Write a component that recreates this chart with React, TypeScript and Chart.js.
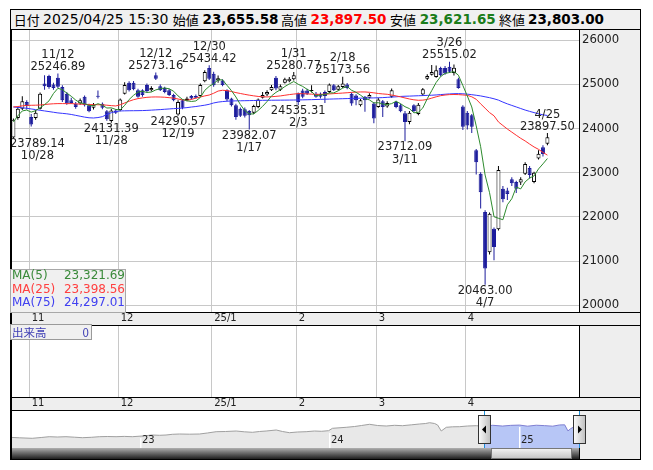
import React, { useEffect, useRef } from "react";
import { Chart, registerables } from "chart.js";

Chart.register(...registerables);

// ---------------- data ----------------
const dates = ["10/28","10/29","10/30","10/31","11/1","11/5","11/6","11/7","11/8","11/11","11/12","11/13","11/14","11/15","11/18","11/19","11/20","11/21","11/22","11/25","11/26","11/27","11/28","11/29","12/2","12/3","12/4","12/5","12/6","12/9","12/10","12/11","12/12","12/13","12/16","12/17","12/18","12/19","12/20","12/23","12/24","12/25","12/26","12/27","12/30","1/6","1/7","1/8","1/9","1/10","1/14","1/15","1/16","1/17","1/20","1/21","1/22","1/23","1/24","1/27","1/28","1/29","1/30","1/31","2/3","2/4","2/5","2/6","2/7","2/10","2/12","2/13","2/14","2/17","2/18","2/19","2/20","2/21","2/25","2/26","2/27","2/28","3/3","3/4","3/5","3/6","3/7","3/10","3/11","3/12","3/13","3/14","3/17","3/18","3/19","3/21","3/24","3/25","3/26","3/27","3/28","3/31","4/1","4/2","4/3","4/4","4/7","4/8","4/9","4/10","4/11","4/14","4/15","4/16","4/17","4/18","4/21","4/22","4/23","4/24","4/25"];

const opens = [
  23800, 24240, 24450, 24600, 24260, 24240, 24450, 25020, 25190, 25000,
  25150, 24940, 24790, 24640, 24560, 24570, 24720, 24530, 24470, 24740,
  24560, 24390, 24170, 24410, 24420, 24790, 25040, 25040, 24870, 24870,
  24990, 24870, 25210, 24960, 24920, 24870, 24760, 24320, 24640, 24640,
  24740, 24740, 24740, 25070, 25370, 25240, 25090, 25090, 24870, 24680,
  24530, 24450, 24440, 24400, 24360, 24490, 24700, 24770, 24870, 25150,
  24880, 25040, 25070, 25120, 24800, 24860, 24860, 24850, 24790, 24790,
  24830, 24830, 24980, 24880, 24940, 25000, 24790, 24750, 24530, 24720,
  24700, 24570, 24490, 24620, 24500, 24720, 24600, 24530, 24350, 24150,
  24530, 24330, 24770, 25130, 25220, 25170, 25370, 25370, 25400, 25260,
  25120, 24500, 24360, 24300, 23510, 22980, 22110, 21200, 21730, 21720,
  22640, 22600, 22850, 22790, 22780, 22980, 23110, 22790, 23320, 23580,
  23655.58
];
const highs = [
  24230, 24490, 24730, 24640, 24330, 24420, 24820, 25210, 25220, 25040,
  25246.89, 24980, 24830, 24700, 24600, 24680, 24750, 24560, 24580, 24860,
  24590, 24420, 24450, 24440, 24680, 25050, 25070, 25080, 24900, 24890,
  25020, 24960, 25273.16, 25000, 24950, 24900, 24790, 24640, 24660, 24720,
  24760, 24770, 25020, 25320, 25434.42, 25290, 25200, 25120, 24890, 24700,
  24560, 24480, 24480, 24420, 24540, 24680, 24830, 24870, 24990, 25190,
  25000, 25150, 25170, 25280.77, 24820, 24900, 24900, 24980, 24830, 24820,
  24860, 25020, 25010, 24990, 25173.56, 25030, 24820, 24780, 24670, 24740,
  24800, 24600, 24700, 24650, 24620, 24910, 24630, 24560, 24400, 24400,
  24550, 24580, 24920, 25230, 25440, 25430, 25400, 25420, 25515.02, 25450,
  25150, 24530, 24400, 24330, 23540, 23010, 22150, 22100, 21760, 23150,
  22700, 22660, 22900, 22820, 22900, 23240, 23150, 23020, 23510, 23620,
  23897.50
];
const lows = [
  23789.14, 24200, 24420, 24430, 24050, 24200, 24430, 24880, 24900, 24880,
  24920, 24600, 24540, 24560, 24450, 24540, 24500, 24370, 24430, 24680,
  24440, 24180, 24131.39, 24330, 24390, 24770, 24840, 24870, 24700, 24720,
  24820, 24840, 25100, 24850, 24800, 24740, 24620, 24290.57, 24440, 24620,
  24660, 24680, 24720, 25050, 25100, 24950, 25040, 24960, 24620, 24500,
  24200, 24260, 24250, 23982.07, 24330, 24460, 24680, 24740, 24850, 24870,
  24850, 25020, 25050, 25090, 24535.31, 24690, 24760, 24820, 24700, 24680,
  24580, 24800, 24850, 24860, 24920, 24890, 24520, 24530, 24500, 24380,
  24680, 24120, 24470, 24260, 24470, 24700, 24460, 24370, 23712.09, 24100,
  24370, 24300, 24740, 25100, 25200, 25150, 25180, 25220, 25260, 25200,
  24900, 23970, 23980, 23900, 22960, 22190, 20463.00, 21150, 21020, 21690,
  22330, 22380, 22700, 22540, 22720, 22950, 22870, 22760, 23300, 23370,
  23621.65
];
const closes = [
  24200, 24450, 24620, 24510, 24090, 24360, 24790, 24960, 24940, 24920,
  24950, 24640, 24570, 24580, 24490, 24640, 24530, 24390, 24540, 24720,
  24470, 24210, 24410, 24360, 24660, 24990, 24870, 24890, 24720, 24760,
  24850, 24920, 25130, 24870, 24830, 24760, 24640, 24600, 24470, 24680,
  24680, 24700, 24990, 25280, 25130, 24980, 25140, 24990, 24660, 24530,
  24260, 24290, 24290, 24300, 24510, 24660, 24760, 24830, 24940, 24910,
  24960, 25120, 25130, 25210, 24600, 24720, 24790, 24870, 24720, 24720,
  24740, 24997, 24870, 24960, 25020, 24920, 24570, 24640, 24640, 24640,
  24760, 24230, 24660, 24490, 24580, 24870, 24490, 24390, 24150, 24360,
  24400, 24540, 24890, 25190, 25280, 25320, 25210, 25250, 25290, 25380,
  24920, 24040, 24070, 24040, 23240, 22560, 20830, 22070, 21320, 23060,
  22400, 22520, 22760, 22640, 22850, 23200, 22950, 23000, 23430, 23425,
  23803.00
];

const ma5 = [
  24150, 24290, 24400, 24420, 24374, 24406, 24474, 24542, 24628, 24794,
  24912, 24882, 24804, 24732, 24646, 24584, 24562, 24526, 24518, 24564,
  24530, 24466, 24470, 24434, 24422, 24526, 24658, 24754, 24826, 24846,
  24818, 24828, 24876, 24906, 24920, 24902, 24846, 24740, 24660, 24630,
  24614, 24626, 24704, 24866, 24956, 25016, 25104, 25104, 24980, 24860,
  24716, 24546, 24406, 24334, 24330, 24410, 24504, 24612, 24740, 24820,
  24880, 24952, 25012, 25066, 25004, 24956, 24890, 24838, 24740, 24764,
  24768, 24809, 24809, 24857, 24917, 24953, 24868, 24822, 24758, 24682,
  24650, 24582, 24586, 24556, 24544, 24566, 24618, 24564, 24496, 24452,
  24358, 24368, 24468, 24676, 24860, 25044, 25178, 25250, 25270, 25290,
  25210, 24976, 24740, 24490, 24062, 23590, 22948, 22548, 22004, 21968,
  21936, 22274, 22412, 22676, 22634, 22794, 22880, 22928, 23086, 23201,
  23321.69
];
const ma25 = [
  24490, 24500, 24515, 24525, 24528, 24530, 24535, 24545, 24555, 24562,
  24566, 24566, 24565, 24566, 24560, 24555, 24550, 24545, 24542, 24540,
  24538, 24530, 24520, 24513, 24540, 24580, 24620, 24655, 24679, 24695,
  24708, 24715, 24717, 24715, 24710, 24700, 24690, 24670, 24650, 24641,
  24660, 24690, 24715, 24740, 24760, 24800, 24850, 24868, 24860, 24840,
  24815, 24795, 24775, 24757, 24742, 24728, 24720, 24717, 24722, 24730,
  24740, 24755, 24770, 24782, 24792, 24790, 24785, 24780, 24776, 24775,
  24780, 24785, 24792, 24798, 24805, 24812, 24820, 24826, 24830, 24830,
  24822, 24810, 24795, 24785, 24777, 24760, 24740, 24718, 24694, 24670,
  24652, 24641, 24645, 24660, 24690, 24720, 24745, 24760, 24770, 24772,
  24770, 24762, 24754, 24720, 24664, 24560, 24462, 24362, 24290, 24150,
  24070, 23990, 23920, 23849, 23780, 23720, 23650, 23584, 23530, 23460,
  23398.56
];
const ma75 = [
  24490, 24480, 24470, 24460, 24445, 24430, 24415, 24400, 24385, 24370,
  24355, 24345, 24335, 24320, 24300, 24280, 24260, 24245, 24240, 24250,
  24270, 24320, 24360, 24385, 24400, 24402, 24404, 24405, 24406, 24408,
  24412, 24418, 24424, 24430, 24438, 24445, 24452, 24458, 24465, 24475,
  24488, 24500, 24515, 24530, 24550, 24580, 24600, 24612, 24620, 24625,
  24628, 24630, 24632, 24634, 24636, 24638, 24640, 24641, 24642, 24643,
  24644, 24645, 24646, 24647, 24649, 24651, 24653, 24656, 24659, 24662,
  24665, 24668, 24671, 24674, 24677, 24680, 24683, 24686, 24689, 24691,
  24693, 24695, 24698, 24702, 24708, 24714, 24720, 24728, 24733, 24736,
  24740, 24744, 24748, 24752, 24756, 24762, 24770, 24778, 24785, 24790,
  24792, 24788, 24780, 24768, 24755, 24740, 24720, 24700, 24675, 24645,
  24600, 24560, 24525, 24490, 24455, 24420, 24390, 24362, 24335, 24312,
  24297.01
];

const monthStartDates = ["11/1", "12/2", "1/6", "2/3", "3/3", "4/1"];
const monthLabels = ["11", "12", "25/1", "2", "3", "4"];
const priceTicks = [20000, 21000, 22000, 23000, 24000, 25000, 26000];
const highLabelDates = ["11/12", "12/12", "12/30", "1/31", "2/18", "3/26", "4/25"];
const lowLabelDates = ["10/28", "11/28", "12/19", "1/17", "2/3", "3/11", "4/7"];
const headerDateTime = "2025/04/25 15:30";

// navigator (months since 2022-01, index level)
const navMonths = [3.73, 4.32, 5.14, 5.71, 6.22, 6.73, 7.28, 7.81, 8.32, 8.89, 9.40, 9.90, 10.46, 10.98, 11.49, 12.13, 12.76, 13.21, 13.63, 14.03, 14.48, 15.11, 15.75, 16.25, 16.81, 17.40, 18.08, 18.60, 19.11, 19.56, 19.98, 20.62, 21.02, 21.46, 21.97, 22.52, 23.05, 23.49, 23.94, 24.19, 25.06, 25.59, 26.03, 26.54, 27.05, 27.60, 28.13, 28.63, 29.21, 29.71, 30.10, 30.35, 30.67, 30.86, 31.09, 31.41, 31.81, 32.25, 32.76, 33.31, 33.80, 34.35, 34.98, 35.49, 36.06, 36.57, 37.12, 37.65, 38.16, 38.60, 38.92, 39.13, 39.30, 39.45, 39.62, 39.83];
const navValues = [16186, 15821, 15456, 16040, 16624, 16405, 16624, 16259, 15894, 16186, 16624, 16770, 16624, 16843, 16624, 17135, 17865, 17646, 17865, 18376, 18595, 18450, 18595, 19325, 20274, 20420, 20785, 20201, 19836, 20420, 20785, 21515, 20420, 19544, 20055, 20274, 20785, 20566, 21004, 22756, 23486, 24070, 24800, 25676, 24800, 24435, 24946, 24654, 25311, 25895, 26260, 26844, 26260, 25165, 20785, 23486, 23851, 23924, 24435, 24654, 24200, 24950, 24400, 24900, 25100, 24300, 25000, 24700, 24300, 25200, 25300, 20830, 22500, 23400, 22950, 23800];
const navYearMonths = [12, 24, 36];
const navYearLabels = ["23", "24", "25"];
const navSelStart = 33.80;

// ---------------- styles ----------------
const FONT = '"DejaVu Sans", "Noto Sans CJK JP", sans-serif';
const CJK = '"Noto Sans CJK JP", "DejaVu Sans", sans-serif';
const DOWN = "#1c1c9c";
const GRID = "#c8c8c8";
const PANEL = "#eeeeee";
const MA5_COLOR = "#2e8b2e";
const MA25_COLOR = "#ff3030";
const MA75_COLOR = "#3535ff";
const X_MIN = -0.764, X_MAX = 127.1;
const Y_MIN = 19846, Y_MAX = 26233;
const AXIS_W = 62;
const STRIP_H = 13;
const GRID_SHIFT = 0.4;
const NAV_X_MIN = 3.73, NAV_X_MAX = 39.83;
const NAV_Y_MIN = 8375, NAV_Y_MAX = 35385;

Chart.defaults.font.family = FONT;

const fmt = (v: number) => v.toLocaleString("en-US", { minimumFractionDigits: 2, maximumFractionDigits: 2 });

const noPad = (s: any) => { s.paddingTop = 0; s.paddingBottom = 0; s.paddingLeft = 0; s.paddingRight = 0; };

function monthAxis(): any {
  const monthIdx = monthStartDates.map((d) => dates.indexOf(d));
  return {
    type: "linear", position: "bottom", min: X_MIN, max: X_MAX, offset: false, bounds: "data",
    grid: { color: GRID, drawTicks: false, offset: false, lineWidth: 1 },
    border: { display: false },
    afterBuildTicks: (s: any) => { s.ticks = monthIdx.map((i) => ({ value: i - GRID_SHIFT })); },
    afterFit: (s: any) => { s.height = STRIP_H; noPad(s); },
    ticks: {
      autoSkip: false, maxRotation: 0, minRotation: 0, align: "start", labelOffset: 2.3, padding: 0,
      font: { family: FONT, size: 10 }, color: "#222",
      callback: (_v: any, k: number) => monthLabels[k],
    },
  };
}

const mainDeco = {
  id: "mainDeco",
  beforeDraw(chart: any) {
    const { ctx, width, height, chartArea: a } = chart;
    ctx.save();
    ctx.fillStyle = "#fff"; ctx.fillRect(0, 0, width, height);
    ctx.fillStyle = PANEL;
    ctx.fillRect(a.right, 0, width - a.right, a.bottom);
    ctx.fillRect(0, a.bottom, width, height - a.bottom);
    ctx.restore();
  },
  afterDatasetsDraw(chart: any) {
    const { ctx, chartArea: a, scales } = chart;
    const xs = scales.x, ys = scales.y;
    ctx.save();
    ctx.font = `11.5px ${FONT}`;
    ctx.fillStyle = "#222";
    ctx.textAlign = "center";
    ctx.textBaseline = "middle";
    const draw = (d: string, kind: string) => {
      const i = dates.indexOf(d);
      const v = kind === "high" ? highs[i] : lows[i];
      const vt = v.toFixed(2);
      const w = Math.max(ctx.measureText(vt).width, ctx.measureText(d).width);
      const px = Math.min(Math.max(xs.getPixelForValue(i), a.left + w / 2), a.right - w / 2);
      const py = ys.getPixelForValue(v);
      if (kind === "high") {
        ctx.fillText(d, px, py - 18.3);
        ctx.fillText(vt, px, py - 6.3);
      } else {
        ctx.fillText(vt, px, py + 6.2);
        ctx.fillText(d, px, py + 18.3);
      }
    };
    highLabelDates.forEach((d) => draw(d, "high"));
    lowLabelDates.forEach((d) => draw(d, "low"));
    ctx.restore();
  },
  afterDraw(chart: any) {
    const { ctx, width, height, chartArea: a } = chart;
    ctx.save();
    ctx.fillStyle = "#000";
    ctx.fillRect(0, 0, 2, height);
    ctx.fillRect(width - 1, 0, 1, height);
    ctx.fillRect(0, Math.round(a.bottom), width, 1);
    ctx.fillRect(Math.round(a.right), 0, 1, a.bottom);
    ctx.restore();
  },
};

const volDeco = {
  id: "volDeco",
  beforeDraw(chart: any) {
    const { ctx, width, height, chartArea: a } = chart;
    ctx.save();
    ctx.fillStyle = "#fff"; ctx.fillRect(0, 0, width, height);
    ctx.fillStyle = PANEL;
    ctx.fillRect(a.right, 0, width - a.right, a.bottom);
    ctx.fillRect(0, a.bottom, width, height - a.bottom);
    ctx.restore();
  },
  afterDraw(chart: any) {
    const { ctx, width, height, chartArea: a } = chart;
    ctx.save();
    ctx.fillStyle = "#000";
    ctx.fillRect(0, 0, width, 1);
    ctx.fillRect(0, 0, 2, height);
    ctx.fillRect(width - 1, 0, 1, height);
    ctx.fillRect(0, Math.round(a.bottom), width, 1);
    ctx.fillRect(Math.round(a.right), 0, 1, a.bottom);
    ctx.restore();
  },
};

const navDeco = {
  id: "navDeco",
  beforeDraw(chart: any) {
    const { ctx, width, height, chartArea: a } = chart;
    ctx.save();
    ctx.fillStyle = "#fff"; ctx.fillRect(0, 0, width, height);
    ctx.fillStyle = PANEL; ctx.fillRect(a.right, 0, width - a.right, height);
    ctx.restore();
  },
  afterDatasetsDraw(chart: any) {
    const { ctx, chartArea: a, scales } = chart;
    const xs = scales.x, ys = scales.y;
    ctx.save();
    ctx.font = `10px ${FONT}`;
    ctx.textBaseline = "middle";
    ctx.textAlign = "left";
    navYearMonths.forEach((m, k) => {
      let best = 0;
      navMonths.forEach((nm, j) => { if (Math.abs(nm - m) < Math.abs(navMonths[best] - m)) best = j; });
      const px = Math.round(xs.getPixelForValue(m));
      const py = Math.round(ys.getPixelForValue(navValues[best])) + 2;
      ctx.fillStyle = "#fff";
      ctx.fillRect(px, py, 1.5, a.bottom - py);
      ctx.fillStyle = "#222";
      ctx.fillText(navYearLabels[k], px + 2, a.bottom - 7.5);
    });
    ctx.restore();
  },
  afterDraw(chart: any) {
    const { ctx, width, height, chartArea: a, scales } = chart;
    const sx0 = Math.round(scales.x.getPixelForValue(navSelStart));
    const sx1 = Math.round(a.right);
    const sb = Math.round(a.bottom);
    ctx.save();
    const g = ctx.createLinearGradient(0, sb, 0, height - 1);
    g.addColorStop(0, "#b0b0b0");
    g.addColorStop(0.35, "#7a7a7a");
    g.addColorStop(1, "#1e1e1e");
    ctx.fillStyle = g;
    ctx.fillRect(0, sb, sx1, height - 1 - sb);
    const tx0 = sx0 + 7, tx1 = sx1 - 7;
    const tg = ctx.createLinearGradient(0, sb, 0, height - 1);
    tg.addColorStop(0, "#f6f6f6");
    tg.addColorStop(1, "#c2c2c2");
    ctx.fillStyle = tg;
    ctx.fillRect(tx0, sb, tx1 - tx0, height - 1 - sb);
    ctx.strokeStyle = "#777";
    ctx.lineWidth = 1;
    ctx.strokeRect(tx0 + 0.5, sb + 0.5, tx1 - tx0 - 1, height - 2 - sb);
    ctx.fillStyle = "#000";
    ctx.fillRect(0, 0, width, 1);
    ctx.fillRect(0, height - 1, width, 1);
    ctx.fillRect(0, 0, 2, height);
    ctx.fillRect(width - 1, 0, 1, height);
    ctx.fillRect(sx1, 0, 1, height);
    ctx.fillStyle = "#1e90d8";
    ctx.fillRect(sx0, 1, 1, sb - 1);
    ctx.fillRect(sx1, 1, 1, sb - 1);
    const handle = (cx: number, dir: number) => {
      const x0 = cx - 6, y0 = 5, w = 13, h = 29;
      const hg = ctx.createLinearGradient(x0, 0, x0 + w, 0);
      hg.addColorStop(0, "#ffffff");
      hg.addColorStop(1, "#bcbcbc");
      ctx.fillStyle = hg;
      ctx.fillRect(x0, y0, w, h);
      ctx.strokeStyle = "#333";
      ctx.strokeRect(x0 + 0.5, y0 + 0.5, w - 1, h - 1);
      const cy = y0 + h / 2;
      const c = x0 + w / 2;
      ctx.fillStyle = "#000";
      ctx.beginPath();
      ctx.moveTo(c - 2.5 * dir, cy);
      ctx.lineTo(c + 1.5 * dir, cy - 4);
      ctx.lineTo(c + 1.5 * dir, cy + 4);
      ctx.closePath();
      ctx.fill();
    };
    handle(sx0, 1);
    handle(sx1, -1);
    ctx.restore();
  },
};

function mainConfig(): any {
  const idx = dates.map((_, i) => i);
  const up = idx.map((i) => closes[i] >= opens[i]);
  const line = (label: string, arr: number[], color: string) => ({
    type: "line", label, data: idx.map((i) => ({ x: i, y: arr[i] })),
    borderColor: color, backgroundColor: color, borderWidth: 1, pointRadius: 0, tension: 0, order: 0,
  });
  return {
    type: "bar",
    data: {
      datasets: [
        line("MA(5)", ma5, MA5_COLOR),
        line("MA(25)", ma25, MA25_COLOR),
        line("MA(75)", ma75, MA75_COLOR),
        {
          type: "bar", label: "body", data: idx.map((i) => ({ x: i, y: [opens[i], closes[i]] })),
          backgroundColor: idx.map((i) => (up[i] ? "#ffffff" : DOWN)),
          borderColor: idx.map((i) => (up[i] ? "#000000" : DOWN)),
          borderWidth: 1, borderSkipped: false, barThickness: 4, grouped: false, minBarLength: 1, inflateAmount: 0, order: 1,
        },
        {
          type: "bar", label: "wick", data: idx.map((i) => ({ x: i, y: [lows[i], highs[i]] })),
          backgroundColor: idx.map((i) => (up[i] ? "#000000" : DOWN)),
          borderWidth: 0, barThickness: 1, grouped: false, inflateAmount: 0, order: 2,
        },
      ],
    },
    options: {
      responsive: false, maintainAspectRatio: false, animation: false, events: [],
      layout: { padding: 0 },
      plugins: { legend: { display: false }, tooltip: { enabled: false }, title: { display: false } },
      scales: {
        x: monthAxis(),
        y: {
          type: "linear", position: "right", min: Y_MIN, max: Y_MAX, beginAtZero: false, bounds: "data",
          grid: { color: GRID, drawTicks: false, lineWidth: 1 },
          border: { display: false },
          afterBuildTicks: (s: any) => { s.ticks = priceTicks.map((v) => ({ value: v })); },
          afterFit: (s: any) => { s.width = AXIS_W; noPad(s); },
          ticks: { padding: 3, font: { family: FONT, size: 11.7 }, color: "#222", callback: (v: any) => String(v) },
        },
      },
    },
    plugins: [mainDeco],
  };
}

function volConfig(): any {
  return {
    type: "line",
    data: { datasets: [] },
    options: {
      responsive: false, maintainAspectRatio: false, animation: false, events: [],
      layout: { padding: { top: 1 } },
      plugins: { legend: { display: false }, tooltip: { enabled: false } },
      scales: {
        x: monthAxis(),
        y: {
          type: "linear", position: "right", min: 0, max: 1, bounds: "data",
          grid: { display: false }, border: { display: false }, ticks: { display: false },
          afterFit: (s: any) => { s.width = AXIS_W; noPad(s); },
        },
      },
    },
    plugins: [volDeco],
  };
}

function navConfig(): any {
  const pts = navMonths.map((m, i) => ({ x: m, y: navValues[i] }));
  return {
    type: "line",
    data: {
      datasets: [
        {
          label: "selected", data: pts.filter((p) => p.x >= navSelStart),
          borderColor: "#7f7fd2", backgroundColor: "#b7c6f6", fill: "start",
          borderWidth: 1, pointRadius: 0, tension: 0, order: 0,
        },
        {
          label: "history", data: pts.filter((p) => p.x <= navSelStart),
          borderColor: "#a0a0a0", backgroundColor: "#e8e8e8", fill: "start",
          borderWidth: 1, pointRadius: 0, tension: 0, order: 1,
        },
      ],
    },
    options: {
      responsive: false, maintainAspectRatio: false, animation: false, events: [],
      layout: { padding: { top: 1, bottom: 12, right: AXIS_W, left: 0 } },
      plugins: { legend: { display: false }, tooltip: { enabled: false } },
      scales: {
        x: { type: "linear", display: false, min: NAV_X_MIN, max: NAV_X_MAX, bounds: "data" },
        y: { type: "linear", display: false, min: NAV_Y_MIN, max: NAV_Y_MAX, bounds: "data" },
      },
    },
    plugins: [navDeco],
  };
}

export default function App() {
  const mainRef = useRef<HTMLCanvasElement>(null);
  const volRef = useRef<HTMLCanvasElement>(null);
  const navRef = useRef<HTMLCanvasElement>(null);

  useEffect(() => {
    const charts = [
      new Chart(mainRef.current as any, mainConfig()),
      new Chart(volRef.current as any, volConfig()),
      new Chart(navRef.current as any, navConfig()),
    ];
    return () => charts.forEach((c) => c.destroy());
  }, []);

  const last = dates.length - 1;
  const headerItems = [
    { text: "日付", left: 2.8, kind: "cjk", color: "#000" },
    { text: headerDateTime, left: 32, kind: "txt", color: "#000" },
    { text: "始値", left: 161.8, kind: "cjk", color: "#000" },
    { text: fmt(opens[last]), left: 191.5, kind: "num", color: "#000" },
    { text: "高値", left: 270, kind: "cjk", color: "#000" },
    { text: fmt(highs[last]), left: 299.5, kind: "num", color: "#ff0000" },
    { text: "安値", left: 379, kind: "cjk", color: "#000" },
    { text: fmt(lows[last]), left: 408.7, kind: "num", color: "#1a7d1a" },
    { text: "終値", left: 488, kind: "cjk", color: "#000" },
    { text: fmt(closes[last]), left: 517, kind: "num", color: "#000" },
  ];
  const legendRows = [
    { name: "MA(5)", value: fmt(ma5[last]), color: "#3a8a3a" },
    { name: "MA(25)", value: fmt(ma25[last]), color: "#ff4040" },
    { name: "MA(75)", value: fmt(ma75[last]), color: "#4040f0" },
  ];

  return (
    <div style={{ position: "fixed", left: 0, top: 0, width: 653, height: 470, background: "#fff", overflow: "hidden" }}>
      <div style={{ position: "absolute", left: 10, top: 9, width: 631, height: 21, boxSizing: "border-box", border: "1px solid #000", background: "#f0f0f0" }}>
        {headerItems.map((h, k) => (
          <span key={k} style={{
            position: "absolute", left: h.left, top: 0, height: 19, lineHeight: "19px", whiteSpace: "nowrap",
            color: h.color,
            fontFamily: h.kind === "cjk" ? CJK : FONT,
            fontSize: h.kind === "cjk" ? 13 : h.kind === "num" ? 13.5 : 14,
            fontWeight: h.kind === "num" ? "bold" : "normal",
          }}>{h.text}</span>
        ))}
      </div>
      <canvas ref={mainRef} width={631} height={295} style={{ position: "absolute", left: 10, top: 30, width: 631, height: 295 }} />
      <canvas ref={volRef} width={631} height={85} style={{ position: "absolute", left: 10, top: 325, width: 631, height: 85 }} />
      <canvas ref={navRef} width={631} height={50} style={{ position: "absolute", left: 10, top: 410, width: 631, height: 50 }} />
      <div style={{ position: "absolute", left: 10, top: 269, width: 116, height: 44, boxSizing: "border-box", border: "1px solid #a8a8a8", background: "#f0f0f0", fontFamily: FONT, fontSize: 12 }}>
        {legendRows.map((r, k) => (
          <div key={k} style={{ position: "absolute", left: 1, right: 0, top: -1 + k * 13.5, height: 13.5, lineHeight: "13.5px", color: r.color, whiteSpace: "nowrap" }}>
            <span>{r.name}</span>
            <span style={{ position: "absolute", right: 0 }}>{r.value}</span>
          </div>
        ))}
      </div>
      <div style={{ position: "absolute", left: 10, top: 324, width: 82, height: 16, boxSizing: "border-box", border: "1px solid #9a9a9a", background: "#f0f0f0", fontFamily: CJK, fontSize: 11.5, color: "#3c3cb4", lineHeight: "14px" }}>
        <span style={{ position: "absolute", left: 1 }}>出来高</span>
        <span style={{ position: "absolute", right: 2 }}>0</span>
      </div>
    </div>
  );
}
